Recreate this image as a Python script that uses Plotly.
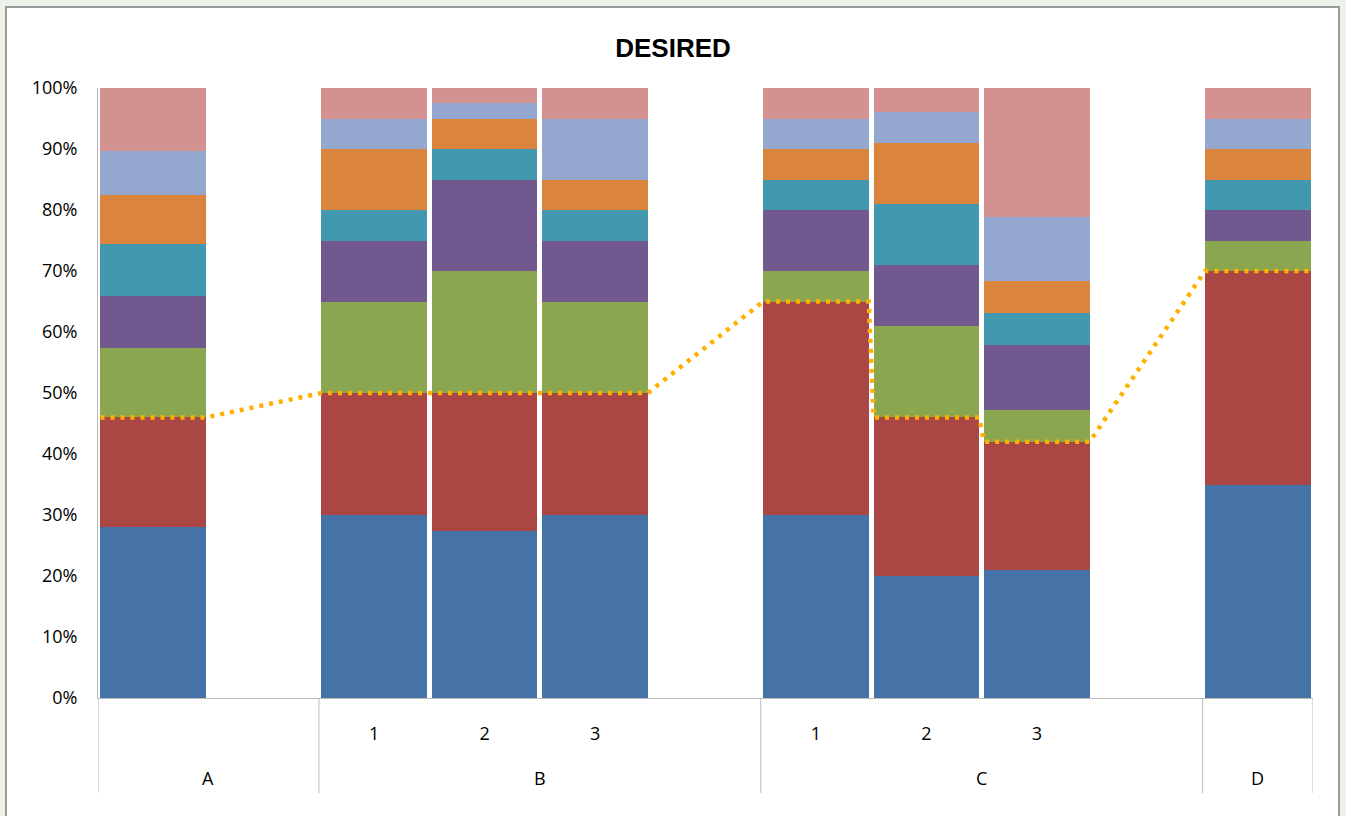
import plotly.graph_objects as go

# Category structure: groups with their sub-categories
groups = ["A", "B", "C", "D"]
sub_labels = [[""], ["1", "2", "3"], ["1", "2", "3"], [""]]

# Stacked shares (%) per bar, in bar order A, B1, B2, B3, C1, C2, C3, D
blue = [28, 30, 27.4, 30, 30, 20, 21, 35]
red = [18, 20, 22.6, 20, 35, 26, 21, 35]
green = [11.4, 15, 20, 15, 5, 15, 5.2, 5]
purple = [8.5, 10, 15, 10, 10, 10, 10.7, 5]
teal = [8.6, 5, 5, 5, 5, 10, 5.2, 5]
orange = [8, 10, 5, 5, 5, 10, 5.3, 5]
lightblue = [7.2, 5, 2.5, 10, 5, 5, 10.5, 5]
pink = [10.3, 5, 2.5, 5, 5, 4, 21.1, 5]

series = [
    ("Blue", blue, "#4572A7"),
    ("Red", red, "#AA4643"),
    ("Green", green, "#8AA64F"),
    ("Purple", purple, "#71588F"),
    ("Teal", teal, "#4198AF"),
    ("Orange", orange, "#DB843D"),
    ("Light blue", lightblue, "#94A8CF"),
    ("Pink", pink, "#D39290"),
]

# Lay out bar slots: one empty slot after every group except the last
bar_x = []
tick_x, tick_text = [], []
group_spans = []
slot = 0
for gi, (g, subs) in enumerate(zip(groups, sub_labels)):
    start = slot
    for s in subs:
        bar_x.append(slot)
        tick_x.append(slot)
        tick_text.append(s)
        slot += 1
    if gi < len(groups) - 1:
        slot += 1
    group_spans.append((g, start - 0.5, slot - 0.5))
n_slots = slot

BAR_W = 0.955

fig = go.Figure()
for name, vals, color in series:
    fig.add_trace(go.Bar(
        x=bar_x, y=vals, name=name, width=BAR_W,
        marker=dict(color=color, line=dict(width=0)),
        showlegend=False,
    ))

# Threshold line: top of the blue + red block, drawn across each bar's width
line_x, line_y = [], []
for xb, b, r in zip(bar_x, blue, red):
    line_x += [xb - BAR_W / 2, xb + BAR_W / 2]
    line_y += [b + r, b + r]
fig.add_trace(go.Scatter(
    x=line_x, y=line_y, mode="lines", showlegend=False,
    line=dict(color="#FFB000", width=4.5, dash="4px,6px"),
))

# Pixel geometry of the plot area
W, H = 1346, 816
ML, MR, MT, MB = 98, 33, 88, 118
plot_h = H - MT - MB
plot_w = W - ML - MR


def py(pix):
    return (H - MB - pix) / plot_h


def px(pix):
    return (pix - ML) / plot_w


shapes = [
    # white chart area with grey frame
    dict(type="rect", xref="paper", yref="paper", layer="below",
         x0=px(6), x1=px(1339), y0=py(840), y1=py(7),
         fillcolor="white", line=dict(color="#9A9A9A", width=2)),
]
# group divider lines under the axis
div_bottom = py(793)
edges = sorted(set([e for _, a, b in group_spans for e in (a, b)]))
for e in edges:
    shapes.append(dict(type="line", xref="x", yref="paper",
                       x0=e, x1=e, y0=0, y1=div_bottom,
                       line=dict(color="#BBBBBB", width=1)))

annotations = []
for g, a, b in group_spans:
    annotations.append(dict(
        x=(a + b) / 2, y=0, xref="x", yref="paper", text=g,
        showarrow=False, yshift=-80, yanchor="middle",
        font=dict(family="Open Sans", size=18, color="#000000"),
    ))

fig.update_layout(
    width=W, height=H,
    margin=dict(l=ML, r=MR, t=MT, b=MB),
    paper_bgcolor="#ECF2E8",
    plot_bgcolor="white",
    barmode="stack",
    bargap=0.045,
    title=dict(text="<b>DESIRED</b>", x=0.5, xref="container", xanchor="center",
               y=1 - 48 / H, yref="container", yanchor="middle",
               font=dict(family="Liberation Sans", size=26, color="#000000")),
    xaxis=dict(range=[-0.5, n_slots - 0.5], tickvals=tick_x, ticktext=tick_text,
               showline=True, linecolor="#BBBBBB", linewidth=1, ticks="",
               showgrid=False, zeroline=False, ticklabelstandoff=19,
               tickfont=dict(family="Open Sans", size=18, color="#000000")),
    yaxis=dict(range=[0, 100], dtick=10, ticksuffix="%", showgrid=False,
               showline=True, linecolor="#BBBBBB", linewidth=1, ticks="",
               zeroline=False, ticklabelstandoff=16,
               tickfont=dict(family="Open Sans", size=18, color="#000000")),
    shapes=shapes,
    annotations=annotations,
)

fig.write_html("out.html")
